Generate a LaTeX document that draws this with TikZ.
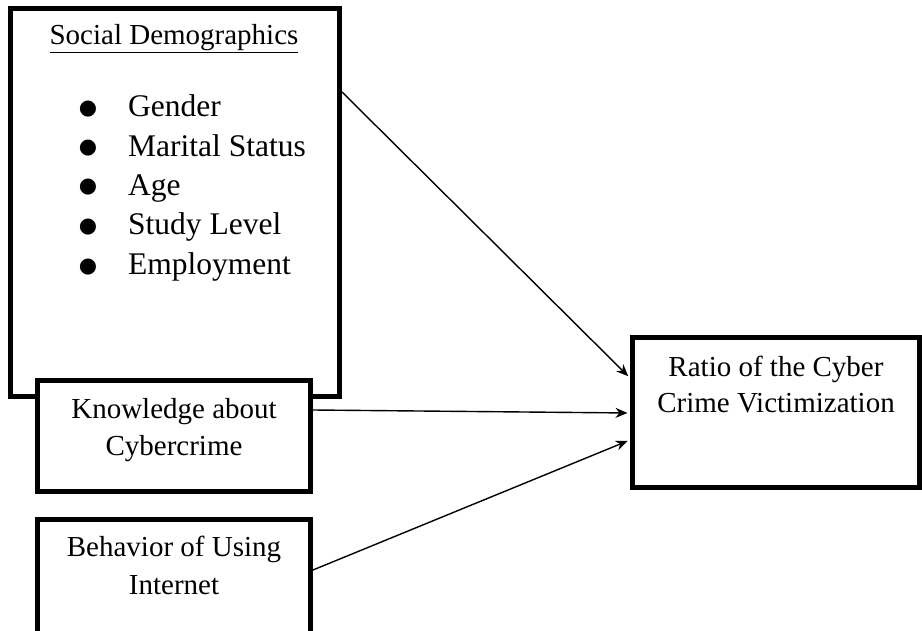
\documentclass[tikz,border=0pt]{standalone}
\usepackage{fontspec}
\setmainfont{Liberation Serif}
\newfontfamily\symfont{DejaVu Sans}
\usetikzlibrary{arrows.meta,calc}
\begin{document}
\begin{tikzpicture}[x=1pt,y=1pt,
  box/.style={draw=black, line width=5pt, fill=white, inner sep=0pt, rectangle},
  conn/.style={line width=1.4pt, -{Stealth[length=12pt,width=10pt]}, shorten >=2.5pt},
  lbl/.style={anchor=base, inner sep=0pt, font=\fontsize{29}{37.5}\selectfont},
  item/.style={anchor=base west, inner sep=0pt, font=\fontsize{31.5}{39.5}\selectfont},
  bul/.style={anchor=base, inner sep=0pt, yshift=2.5pt, font=\symfont\fontsize{21}{23}\selectfont}]
\useasboundingbox (0,0) rectangle (922,630);
\fill[white] (0,0) rectangle (922,630);
% boxes
\node[box, minimum width=329pt, minimum height=388pt] (soc) at (175,427) {};
\node[box, minimum width=273pt, minimum height=111pt] (know) at (174,193.5) {};
\node[box, minimum width=273pt, minimum height=120pt] (beh) at (174,50) {};
\node[box, minimum width=287pt, minimum height=150pt] (rat) at (776,217.5) {};
% texts
\node[lbl] (soct) at (174,585) {\underline{Social Demographics}};
\node[bul] (b1) at (88,513.3) {●};
\node[item] (i1) at (128,513.3) {Gender};
\node[bul] (b2) at (88,473.5) {●};
\node[item] (i2) at (128,473.5) {Marital Status};
\node[bul] (b3) at (88,434.5) {●};
\node[item] (i3) at (128,434.5) {Age};
\node[bul] (b4) at (88,395) {●};
\node[item] (i4) at (128,395) {Study Level};
\node[bul] (b5) at (88,355) {●};
\node[item] (i5) at (128,355) {Employment};
\node[lbl] (knowt) at (174,211.5) {\begin{tabular}[t]{@{}c@{}}Knowledge about\\Cybercrime\end{tabular}};
\node[lbl] (beht) at (174,73.3) {\begin{tabular}[t]{@{}c@{}}Behavior of Using\\Internet\end{tabular}};
\node[lbl, font=\fontsize{29}{36}\selectfont] (ratt) at (776,253) {\begin{tabular}[t]{@{}c@{}}Ratio of the Cyber\\Crime Victimization\end{tabular}};
% connectors
\draw[conn] ($(soc.east)+(0,111)$) -- ($(rat.west)+(0,34.5)$);
\draw[conn] ($(know.east)+(0,26.5)$) -- ($(rat.west)+(0,-0.5)$);
\draw[conn] ($(beh.east)+(0,10)$) -- ($(rat.west)+(0,-27.5)$);
\end{tikzpicture}
\end{document}
